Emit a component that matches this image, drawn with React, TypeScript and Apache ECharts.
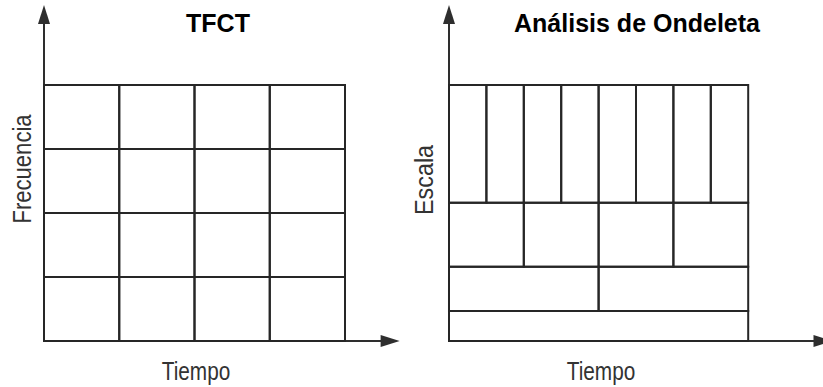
import React, { useEffect, useRef } from "react";
import * as echarts from "echarts";

// ---- data ----
const tfctTimeEdges = [0, 1, 2, 3, 4];
const tfctFreqEdges = [0, 1, 2, 3, 4];
const waveletScaleEdges = [0, 0.47, 1.16, 2.16, 4];
const waveletCellsPerRow = [1, 2, 4, 8];
const waveletTimeSpan = 8;
const titles = ["TFCT", "Análisis de Ondeleta"];
const yAxisNames = ["Frecuencia", "Escala"];
const xAxisName = "Tiempo";

function buildTfctCells() {
  const cells: number[][] = [];
  for (let i = 0; i < tfctTimeEdges.length - 1; i++) {
    for (let j = 0; j < tfctFreqEdges.length - 1; j++) {
      cells.push([tfctTimeEdges[i], tfctTimeEdges[i + 1], tfctFreqEdges[j], tfctFreqEdges[j + 1]]);
    }
  }
  return cells;
}

function buildWaveletCells() {
  const cells: number[][] = [];
  waveletCellsPerRow.forEach((n, r) => {
    const w = waveletTimeSpan / n;
    for (let k = 0; k < n; k++) {
      cells.push([k * w, (k + 1) * w, waveletScaleEdges[r], waveletScaleEdges[r + 1]]);
    }
  });
  return cells;
}

const AXIS_COLOR = "#2e2e2e";
const CELL_COLOR = "#262626";

function axis(max: number) {
  return {
    type: "value",
    min: 0,
    max,
    axisLine: {
      show: true,
      symbol: ["none", "triangle"],
      symbolSize: [12, 19],
      lineStyle: { color: AXIS_COLOR, width: 2 },
    },
    axisTick: { show: false },
    axisLabel: { show: false },
    splitLine: { show: false },
  };
}

const renderCell = (params: any, api: any) => {
  const p0 = api.coord([api.value(0), api.value(2)]);
  const p1 = api.coord([api.value(1), api.value(3)]);
  return {
    type: "rect",
    shape: { x: p0[0], y: p1[1], width: p1[0] - p0[0], height: p0[1] - p1[1] },
    style: { fill: "none", stroke: CELL_COLOR, lineWidth: 2 },
  };
};

export default function App() {
  const ref = useRef<HTMLDivElement>(null);
  useEffect(() => {
    document.body.style.margin = "0";
    const chart = echarts.init(ref.current!, null, { renderer: "svg" });
    const labelFont = "26px 'Liberation Sans', Arial, sans-serif";
    chart.setOption({
      animation: false,
      backgroundColor: "#ffffff",
      grid: [
        { left: 44, top: 14.6, width: 346.15, height: 326.4 },
        { left: 449, top: 14.6, width: 375, height: 326.4 },
      ],
      xAxis: [
        { ...axis(4.6), gridIndex: 0 },
        { ...axis(10), gridIndex: 1 },
      ],
      yAxis: [
        { ...axis(5.1), gridIndex: 0 },
        { ...axis(5.1), gridIndex: 1 },
      ],
      series: [
        {
          type: "custom",
          xAxisIndex: 0,
          yAxisIndex: 0,
          renderItem: renderCell,
          encode: { x: [0, 1], y: [2, 3] },
          data: buildTfctCells(),
          silent: true,
        },
        {
          type: "custom",
          xAxisIndex: 1,
          yAxisIndex: 1,
          renderItem: renderCell,
          encode: { x: [0, 1], y: [2, 3] },
          data: buildWaveletCells(),
          silent: true,
        },
      ],
      graphic: [
        {
          type: "text",
          x: 218,
          y: 23,
          style: {
            text: titles[0],
            font: "bold 25px 'Liberation Sans', Arial, sans-serif",
            fill: "#000",
            textAlign: "center",
            textVerticalAlign: "middle",
          },
        },
        {
          type: "text",
          x: 637,
          y: 23,
          style: {
            text: titles[1],
            font: "bold 25px 'Liberation Sans', Arial, sans-serif",
            fill: "#000",
            textAlign: "center",
            textVerticalAlign: "middle",
          },
        },
        {
          type: "text",
          x: 196,
          y: 371,
          scaleX: 0.8,
          style: {
            text: xAxisName,
            font: labelFont,
            fill: "#333",
            textAlign: "center",
            textVerticalAlign: "middle",
          },
        },
        {
          type: "text",
          x: 601,
          y: 371,
          scaleX: 0.8,
          style: {
            text: xAxisName,
            font: labelFont,
            fill: "#333",
            textAlign: "center",
            textVerticalAlign: "middle",
          },
        },
        {
          type: "text",
          x: 22,
          y: 169,
          rotation: Math.PI / 2,
          scaleX: 0.85,
          style: {
            text: yAxisNames[0],
            font: labelFont,
            fill: "#333",
            textAlign: "center",
            textVerticalAlign: "middle",
          },
        },
        {
          type: "text",
          x: 424,
          y: 180,
          rotation: Math.PI / 2,
          scaleX: 0.9,
          style: {
            text: yAxisNames[1],
            font: labelFont,
            fill: "#333",
            textAlign: "center",
            textVerticalAlign: "middle",
          },
        },
      ],
    });
    return () => chart.dispose();
  }, []);
  return (
    <div
      ref={ref}
      style={{ position: "absolute", left: 0, top: 0, width: 823, height: 387 }}
    />
  );
}
